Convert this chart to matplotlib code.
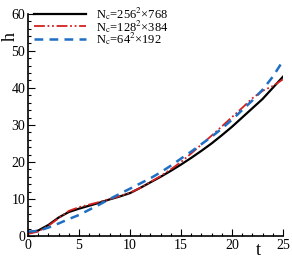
import matplotlib
matplotlib.use('Agg')
import matplotlib.pyplot as plt
import numpy as np

plt.rcParams['font.family'] = ['Liberation Serif', 'DejaVu Serif']
plt.rcParams['mathtext.fontset'] = 'stix'

t = [0, 1, 2, 3, 4, 5, 6, 7, 8, 9, 10, 11, 12, 13, 14, 15, 16, 17, 18, 19, 20, 21, 22, 23, 24, 25]
h_256 = [0.8, 1.5, 3.0, 5.0, 6.5, 7.4, 8.2, 9.0, 9.9, 10.7, 11.6, 13.0, 14.5, 16.0, 17.6, 19.3,
         21.1, 23.0, 25.0, 27.2, 29.5, 32.0, 34.5, 37.0, 40.0, 43.0]
h_128 = [0.6, 1.2, 2.8, 4.8, 6.8, 7.8, 8.5, 9.2, 10.0, 10.8, 11.7, 13.0, 14.6, 16.2, 18.0, 20.0,
         22.3, 24.7, 27.1, 29.6, 32.1, 34.6, 37.2, 39.2, 40.5, 42.3]
h_64 = [1.2, 1.4, 2.3, 3.4, 4.6, 5.7, 7.1, 8.5, 10.0, 11.4, 12.8, 14.2, 15.6, 17.2, 19.0, 20.9,
        22.8, 24.8, 26.8, 29.0, 31.4, 34.0, 36.6, 39.5, 43.0, 47.3]
labels = [r'N$_\mathrm{c}$=256$^\mathrm{2}$×768',
          r'N$_\mathrm{c}$=128$^\mathrm{2}$×384',
          r'N$_\mathrm{c}$=64$^\mathrm{2}$×192']

fig = plt.figure(figsize=(2.92, 2.60), dpi=100)
ax = fig.add_axes([0.096, 0.092, 0.873, 0.855])

ax.plot(t, h_256, color='black', lw=1.6, label=labels[0])
ax.plot(t, h_128, color='#d42020', lw=1.3, dashes=[6, 1.5, 1, 1.5, 1, 1.5], label=labels[1])
ax.plot(t, h_64, color='#1f6fc4', lw=1.8, dashes=[3.5, 2.5], label=labels[2])

ax.set_xlim(0, 25)
ax.set_ylim(0, 60)
ax.set_xticks(np.arange(0, 26, 5))
ax.set_xticks(np.arange(0, 26, 1), minor=True)
ax.set_yticks(np.arange(0, 61, 10))
ax.set_yticks(np.arange(0, 61, 2), minor=True)
ax.tick_params(which='both', direction='in', labelsize=10, pad=2, width=0.8)
ax.tick_params(which='major', length=5)
ax.tick_params(which='minor', length=2.5)
ax.spines['top'].set_visible(False)
ax.spines['right'].set_visible(False)
ax.spines['left'].set_linewidth(1.2)
ax.spines['bottom'].set_linewidth(1.2)

fig.text(0.035, 0.86, 'h', fontsize=13, rotation=90, ha='center', va='center')
fig.text(0.885, 0.035, 't', fontsize=13, ha='center', va='center')

leg = ax.legend(loc='upper left', bbox_to_anchor=(0.115, 0.98), bbox_transform=fig.transFigure,
                frameon=False, fontsize=9, handlelength=4.2, handletextpad=0.8,
                labelspacing=-0.35, borderaxespad=0, borderpad=0)

fig.savefig('out.png', dpi=100)
